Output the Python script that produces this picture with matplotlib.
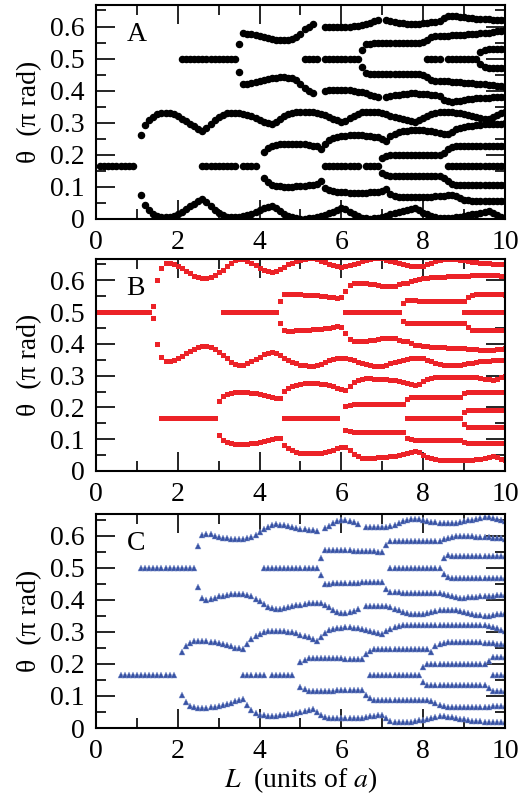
import numpy as np
import matplotlib
matplotlib.use('Agg')
import matplotlib.pyplot as plt
from matplotlib.ticker import MultipleLocator

plt.rcParams['font.family'] = ['Liberation Serif', 'DejaVu Serif']
plt.rcParams['mathtext.fontset'] = 'stix'

# ---------------- données (pas de 0.1 en L) ----------------
STEP = 0.1

# ---- panneau A (cercles noirs) ----
a_sixth1_x0, a_sixth1 = 0.1, [0.1667] * 9
a_band_x0 = 1.1
a_band = [.262, .292, .308, .319, .326, .330, .331, .330, .326, .320,
          .313, .305, .297, .289, .281, .274, .284, .297, .309, .318,
          .325, .329, .331, .331, .330, .328, .325, .320, .315, .309,
          .303, .298, .296, .302, .312, .320, .327, .331, .334, .335,
          .335, .334, .332, .330, .327, .323, .318, .313, .308, .303,
          .305, .314, .322, .328, .332, .334, .335, .334, .332, .329,
          .326, .322, .318, .314, .311, .308, .305, .303, .308, .316,
          .322, .327, .331, .333, .334, .334, .333, .331, .329, .327,
          .325, .322, .319, .316, .313, .311, .317, .324, .330, .334]
a_bot_x0 = 1.1
a_bot = [.074, .044, .028, .017, .010, .006, .005, .006, .010, .016,
         .023, .031, .039, .047, .055, .062, .052, .039, .027, .018,
         .011, .007, .005, .005, .006, .008, .011, .016, .021, .027,
         .033, .038, .040, .034, .024, .016, .009, .005, .002, .001,
         .001, .002, .004, .006, .009, .013, .018, .023, .028, .033,
         .031, .022, .014, .008, .004, .002, .001, .002, .004, .007,
         .010, .014, .018, .022, .025, .028, .031, .033, .028, .020,
         .014, .009, .005, .003, .002, .002, .003, .005, .007, .009,
         .011, .014, .017, .020, .023, .025, .019, .012, .006, .002]
a_half1_x0, a_half1 = 2.1, [0.5] * 14
a_top1_x0 = 3.5
a_top1 = [.545, .580, .578, .576, .573, .570, .567, .564, .561, .559,
          .558, .558, .559, .562, .568, .578, .592, .600, .607]
a_low1_x0 = 3.5
a_low1 = [.457, .420, .422, .424, .427, .430, .433, .436, .439, .441,
          .442, .442, .441, .438, .432, .422, .408, .400, .393]
a_half2_x0, a_half2 = 5.1, [0.5] * 4
a_half3_x0, a_half3 = 5.6, [0.5] * 9
a_top2_x0 = 5.6
a_top2 = [.600, .598, .597, .597, .597, .598, .599, .601, .603, .605,
          .608, .612, .616, .619]
a_low2_x0 = 5.6
a_low2 = [.400, .402, .403, .403, .403, .402, .401, .399, .397, .395,
          .392, .388, .384, .381]
a_dots_x = [7.1, 7.1]
a_dots_y = [.621, .379]
a_top3_x0 = 7.2
a_top3 = [.616, .614, .612, .610, .609, .608, .608, .609, .610, .611,
          .613, .615, .616, .628, .633, .634, .633, .631, .629, .627,
          .625, .624, .623, .622, .622, .621, .621, .621, .621]
a_low3_x0 = 7.2
a_low3 = [.384, .386, .388, .390, .391, .392, .392, .391, .390, .389,
          .387, .385, .384, .372, .367, .366, .367, .369, .371, .373,
          .375, .376, .377, .378, .378, .379, .379, .379, .379]
a_midup_x0 = 6.5
a_midup = [.527, .545, .547, .548, .548, .548, .548, .548, .548, .548,
           .548, .548, .548, .549, .549, .551, .558, .568, .571, .571,
           .571, .571, .572, .573, .574, .575, .576, .577, .578, .579,
           .580, .581, .583, .585, .587, .589]
a_middn_x0 = 6.5
a_middn = [.473, .455, .453, .452, .452, .452, .452, .452, .452, .452,
           .452, .452, .452, .451, .451, .449, .442, .432, .429, .429,
           .429, .429, .428, .427, .426, .425, .424, .423, .422, .421,
           .420, .419, .417, .415, .413, .411]
a_half4_x0, a_half4 = 8.1, [0.5] * 4
a_half5_x0, a_half5 = 8.6, [0.5] * 8
a_up5_x0, a_up5 = 9.4, [.520, .528, .530, .530, .530, .530, .530]
a_dn5_x0, a_dn5 = 9.4, [.482, .474, .472, .472, .472, .472, .472]
a_sixth2_x0, a_sixth2 = 2.6, [0.1667] * 9
a_sixth3_x0, a_sixth3 = 3.6, [0.1667] * 4
a_u1_x0 = 4.1
a_u1 = [.208, .222, .229, .232, .234, .235, .235, .235, .234, .234,
        .233, .231, .229, .226, .218, .234, .245, .252, .256, .259,
        .260, .261, .261, .261, .261, .260, .259, .257, .254, .249,
        .244, .258, .265, .270, .273, .275, .276, .277, .277, .276,
        .275, .273, .271, .269, .266, .265, .272, .279, .284, .287,
        .289, .291, .293, .294, .295, .296, .296, .297, .297, .298]
a_l1_x0 = 4.1
a_l1 = [.128, .114, .107, .104, .102, .101, .101, .101, .102, .102,
        .103, .105, .107, .110, .118, .096, .090, .087, .085, .084,
        .083, .082, .082, .082, .082, .082, .083, .084, .085, .087,
        .092, .079, .073, .070, .068, .067, .067, .067, .067, .068,
        .069, .070, .071, .072, .073, .074, .075, .072, .064, .060,
        .058, .057, .057, .056, .056, .056, .056, .056, .056, .056]
a_sixth4_x0, a_sixth4 = 5.6, [0.1667] * 9
a_sixth5_x0, a_sixth5 = 6.6, [0.1667] * 4
a_sixth6_x0, a_sixth6 = 8.6, [0.1667] * 15
a_d_x0 = 7.0
a_d = [.190, .197] + [.199] * 13 + [.206, .217, .224, .227] + [.229] * 12
a_f_x0 = 7.0
a_f = [.143, .137] + [.135] * 13 + [.127, .117, .110, .107] + [.105] * 12

# ---- panneau B (carrés rouges) ----
b_half1_x0, b_half1 = 0.0, [0.5] * 14
b_t1_x0 = 1.4
b_t1 = [.520, .600, .640, .655, .655, .652, .646,
        .638, .630, .622, .615, .610, .607, .608, .611, .617, .625,
        .634, .645, .656, .664, .668, .666, .661, .655, .648, .640,
        .633, .628, .626, .628, .636, .643, .650, .656, .661, .665,
        .668, .670, .669, .666, .662, .657, .652, .648, .645, .643,
        .645, .648, .652, .656, .660, .664, .667, .669, .670, .669,
        .665, .661, .657, .653, .650, .648, .646, .645, .645, .646,
        .650, .655, .660, .664, .667, .668, .668, .667, .665, .663,
        .661, .659, .657, .655, .654, .653, .652, .651, .651, .651]
b_l1_x0 = 1.4
b_l1 = [.480, .400, .360, .345, .345, .348, .354,
        .362, .370, .378, .385, .390, .393, .392, .389, .383, .375,
        .366, .355, .344, .336, .332, .334, .339, .345, .352, .360,
        .367, .372, .374, .372, .364, .357, .350, .344, .339, .335,
        .332, .330, .331, .334, .338, .343, .348, .352, .355, .357,
        .355, .352, .348, .344, .340, .336, .333, .331, .330, .331,
        .335, .339, .343, .347, .350, .352, .354, .355, .355, .354,
        .350, .345, .340, .336, .333, .332, .332, .333, .335, .337,
        .339, .341, .343, .345, .346, .347, .348, .349, .349, .349]
b_half2_x0, b_half2 = 3.1, [0.5] * 14
b_t2_x0 = 4.5
b_t2 = [.534, .556, .558, .558, .557, .556,
        .555, .555, .554, .553, .552, .551, .549, .547, .545, .548,
        .566, .585, .590, .592, .592, .591, .589, .587, .585, .583,
        .582, .581, .583, .587, .590, .592, .597, .602, .605, .606,
        .608, .609, .610, .611, .611, .612, .612, .613, .613, .614,
        .615, .616, .617, .618, .618, .618, .618, .617, .615, .613]
b_l2_x0 = 4.5
b_l2 = [.466, .444, .442, .442, .443, .444,
        .445, .445, .446, .447, .448, .449, .451, .453, .455, .452,
        .434, .415, .410, .408, .408, .409, .411, .413, .415, .417,
        .418, .419, .417, .413, .410, .408, .403, .398, .395, .394,
        .392, .391, .390, .389, .389, .388, .388, .387, .387, .386,
        .385, .384, .383, .382, .382, .382, .382, .383, .385, .387]
b_half3_x0, b_half3 = 6.1, [0.5] * 14
b_t3_x0 = 7.5
b_t3 = [.529, .538, .537, .537, .536, .536, .536, .535, .535, .535,
        .535, .535, .535, .535, .535, .535, .548, .555, .556, .556,
        .556, .556, .556, .556, .556, .555]
b_l3_x0 = 7.5
b_l3 = [.471, .465, .465, .465, .466, .466, .466, .466, .466, .466,
        .466, .466, .466, .466, .466, .466, .452, .445, .444, .444,
        .444, .444, .444, .444, .444, .445]
b_half4_x0, b_half4 = 9.0, [0.5] * 11
b_sixth1_x0, b_sixth1 = 1.6, [0.1667] * 14
b_u1_x0 = 3.0
b_u1 = [.219, .236, .242, .246, .248, .249, .249, .248, .246, .244, .241,
        .238, .235, .232, .230, .229, .252, .262, .268, .272, .275,
        .277, .277, .277, .276, .275, .273, .270, .266, .262, .258,
        .256, .268, .280, .287, .291, .292, .292, .291, .290, .289,
        .288, .287, .285, .283, .280, .277, .274, .271, .273, .282,
        .288, .292, .295, .297, .297, .297, .297, .297, .297, .297,
        .297, .297, .296, .294, .291, .288, .287, .290, .295, .299]
b_d1_x0 = 3.0
b_d1 = [.114, .097, .091, .087, .085, .084, .084, .085, .087, .089, .092,
        .095, .098, .101, .103, .104, .081, .071, .065, .061, .058,
        .056, .056, .056, .057, .058, .060, .063, .067, .071, .075,
        .077, .065, .053, .046, .042, .041, .041, .042, .043, .044,
        .045, .046, .048, .050, .053, .056, .059, .062, .060, .051,
        .045, .041, .038, .036, .036, .036, .036, .036, .036, .036,
        .036, .036, .037, .039, .042, .045, .046, .043, .038, .034]
b_sixth2_x0, b_sixth2 = 4.6, [0.1667] * 14
b_u2_x0 = 6.1
b_u2 = [.205, .208] + [.210] * 13 + [.228, .233] + [.233] * 12 + [.245] + [.250] * 10
b_d2_x0 = 6.1
b_d2 = [.130, .126] + [.124] * 13 + [.105, .100] + [.099] * 12 + [.090] + [.087] * 10
b_sixth3_x0, b_sixth3 = 7.6, [0.1667] * 14
b_u3_x0, b_u3 = 9.0, [.185] + [.193] * 10
b_d3_x0, b_d3 = 9.0, [.148] + [.139] * 10

# ---- panneau C (triangles bleus) ----
c_sixth1_x0, c_sixth1 = 0.6, [0.1667] * 14
c_half1_x0, c_half1 = 1.1, [0.5] * 14
c_t1a_x0 = 2.5
c_t1a = [.567, .602, .606, .604, .600, .596,
         .593, .591, .589, .588, .588, .589, .591, .596, .603, .611,
         .620, .628, .633, .635, .634, .632, .629, .626, .623, .621,
         .619, .617, .616, .615]
c_t1b_x0 = 5.6
c_t1b = [.622, .630, .638, .644, .648, .648, .645, .641, .636]
c_t1c_x0 = 6.6
c_t1c = [.627, .626, .626, .626, .626,
         .627, .630, .634, .639, .644, .648, .651, .652, .651, .649,
         .646, .643, .641, .639, .638, .638, .638, .639, .641, .644,
         .647, .650, .653, .655, .657, .657, .655, .652, .649, .646]
c_l1a_x0 = 2.5
c_l1a = [.439, .404, .400, .402, .406, .410,
         .413, .415, .417, .418, .418, .417, .415, .410, .403, .395,
         .386, .378, .373, .371, .372, .374, .377, .380, .383, .385,
         .387, .389, .390, .391, .391, .384, .376, .368, .362, .358,
         .358, .361, .365, .370]
c_l1b_x0 = 6.6
c_l1b = [.379, .380, .380, .380, .380,
         .379, .376, .372, .367, .362, .358, .355, .354, .355, .357,
         .360, .363, .365, .367, .368, .368, .368, .367, .365, .362,
         .359, .356, .353, .351, .349, .349, .351, .354, .357, .360]
c_half2_x0, c_half2 = 4.1, [0.5] * 14
c_t2_x0 = 5.5
c_t2 = ([.530] + [.556, .556, .555, .555, .555, .554, .554, .553, .553, .552,
                  .552, .551, .551, .550, .550]
        + [.572] + [.582, .583, .583] + [.584] * 10
        + [.588, .592, .596, .599, .600, .600, .599, .598, .597, .596,
           .595, .594, .593, .592, .591, .590])
c_l2_x0 = 5.5
c_l2 = ([.476] + [.450, .450, .451, .451, .451, .452, .452, .453, .453, .454,
                  .454, .455, .455, .456, .456]
        + [.434] + [.424, .423, .423] + [.422] * 10
        + [.418, .414, .410, .407, .406, .406, .407, .408, .409, .410,
           .411, .412, .413, .414, .415, .416])
c_half3_x0, c_half3 = 7.2, [0.5] * 13
c_t3_x0, c_t3 = 8.5, [.530, .538] + [.537] * 14
c_l3_x0, c_l3 = 8.5, [.480, .472] + [.469] * 14
c_u1_x0 = 2.1
c_u1 = [.236, .256, .265, .270, .272, .272, .271, .269, .267, .264,
        .261, .258, .255, .251, .248, .245, .262, .277, .287, .294,
        .299, .302, .304, .304, .303, .302, .300, .298, .295, .291,
        .287, .283, .277, .272, .285, .297, .305, .309, .312, .313,
        .314, .314, .313, .311, .309, .306, .303, .300, .296, .293,
        .302, .310, .315, .318, .320, .321, .322, .322, .322, .321,
        .321, .320, .320, .320, .320, .320, .321, .321, .322, .322,
        .322, .322, .321, .321, .320, .319, .315, .311, .307, .304]
c_d1_x0 = 2.1
c_d1 = [.104, .080, .070, .065, .062, .062, .063, .065, .067, .070,
        .073, .076, .079, .083, .086, .089, .072, .057, .047, .042,
        .040, .039, .039, .039, .040, .041, .043, .045, .047, .050,
        .053, .056, .058, .050, .040, .034, .032, .031, .030, .030,
        .030, .030, .030, .031, .032, .035, .037, .039, .041, .040,
        .030, .022, .019, .018, .018, .019, .020, .022, .024, .026,
        .029, .032, .034, .036, .036, .035, .033, .031, .029, .027,
        .025, .023, .022, .021, .020, .020, .020, .020, .020, .020]
c_sixth2a_x0, c_sixth2a = 3.6, [0.1667] * 6
c_sixth2b_x0, c_sixth2b = 4.3, [0.1667] * 6
c_u2_x0 = 5.0
c_u2 = ([.205, .212, .218, .219, .219, .218, .218, .218, .217, .217,
         .217, .216, .216, .216, .215, .215, .231, .240, .245, .246]
        + [.246] * 12 + [.236, .255, .262, .265] + [.268] * 8
        + [.267, .266, .265, .264, .263, .262, .262])
c_d2_x0 = 5.0
c_d2 = ([.128, .121, .116, .115]
        + [.115, .115, .116, .116, .116, .117, .117, .117, .118, .118, .118, .118]
        + [.102, .093, .088] + [.087] * 13 + [.083, .078, .072, .069]
        + [.066] * 8 + [.067, .067, .067, .068, .068, .068, .068])
c_sixth3_x0, c_sixth3 = 6.7, [0.1667] * 13
c_u3_x0, c_u3 = 8.0, [.190] + [.200] * 15 + [.210] + [.220] * 4
c_d3_x0, c_d3 = 8.0, [.145] + [.135] * 15 + [.125] + [.115] * 4
c_sixth4_x0, c_sixth4 = 9.7, [0.1667] * 4

# ---------------- tables de branches ----------------
branches_a = [(a_sixth1_x0, a_sixth1), (a_band_x0, a_band), (a_bot_x0, a_bot),
              (a_half1_x0, a_half1), (a_top1_x0, a_top1), (a_low1_x0, a_low1),
              (a_half2_x0, a_half2), (a_half3_x0, a_half3),
              (a_top2_x0, a_top2), (a_low2_x0, a_low2),
              (a_top3_x0, a_top3), (a_low3_x0, a_low3),
              (a_midup_x0, a_midup), (a_middn_x0, a_middn),
              (a_half4_x0, a_half4), (a_half5_x0, a_half5),
              (a_up5_x0, a_up5), (a_dn5_x0, a_dn5),
              (a_sixth2_x0, a_sixth2), (a_sixth3_x0, a_sixth3),
              (a_u1_x0, a_u1), (a_l1_x0, a_l1),
              (a_sixth4_x0, a_sixth4), (a_sixth5_x0, a_sixth5),
              (a_sixth6_x0, a_sixth6), (a_d_x0, a_d), (a_f_x0, a_f)]
branches_b = [(b_half1_x0, b_half1), (b_t1_x0, b_t1), (b_l1_x0, b_l1),
              (b_half2_x0, b_half2), (b_t2_x0, b_t2), (b_l2_x0, b_l2),
              (b_half3_x0, b_half3), (b_t3_x0, b_t3), (b_l3_x0, b_l3),
              (b_half4_x0, b_half4), (b_sixth1_x0, b_sixth1),
              (b_u1_x0, b_u1), (b_d1_x0, b_d1), (b_sixth2_x0, b_sixth2),
              (b_u2_x0, b_u2), (b_d2_x0, b_d2), (b_sixth3_x0, b_sixth3),
              (b_u3_x0, b_u3), (b_d3_x0, b_d3)]
branches_c = [(c_sixth1_x0, c_sixth1), (c_half1_x0, c_half1),
              (c_t1a_x0, c_t1a), (c_t1b_x0, c_t1b), (c_t1c_x0, c_t1c),
              (c_l1a_x0, c_l1a), (c_l1b_x0, c_l1b), (c_half2_x0, c_half2),
              (c_t2_x0, c_t2), (c_l2_x0, c_l2), (c_half3_x0, c_half3),
              (c_t3_x0, c_t3), (c_l3_x0, c_l3),
              (c_u1_x0, c_u1), (c_d1_x0, c_d1),
              (c_sixth2a_x0, c_sixth2a), (c_sixth2b_x0, c_sixth2b),
              (c_u2_x0, c_u2), (c_d2_x0, c_d2), (c_sixth3_x0, c_sixth3),
              (c_u3_x0, c_u3), (c_d3_x0, c_d3), (c_sixth4_x0, c_sixth4)]

x_ticks = [0, 2, 4, 6, 8, 10]
y_ticks = [0, 0.1, 0.2, 0.3, 0.4, 0.5, 0.6]
y_tick_labels = ['0', '0.1', '0.2', '0.3', '0.4', '0.5', '0.6']


def draw(ax, branches, **style):
    for x0, vals in branches:
        x = x0 + STEP * np.arange(len(vals))
        ax.plot(x, vals, ls='none', **style)


def setup(ax, letter):
    ax.set_xlim(0, 10)
    ax.set_ylim(0, 0.667)
    ax.set_xticks(x_ticks)
    ax.set_xticklabels([str(t) for t in x_ticks])
    ax.set_yticks(y_ticks)
    ax.set_yticklabels(y_tick_labels)
    ax.xaxis.set_minor_locator(MultipleLocator(1))
    ax.yaxis.set_minor_locator(MultipleLocator(0.05))
    ax.tick_params(which='both', direction='in', top=True, right=True,
                   labelsize=20, width=1.2)
    ax.tick_params(which='major', length=14, pad=8)
    ax.tick_params(which='minor', length=7)
    for s in ax.spines.values():
        s.set_linewidth(1.5)
    ax.set_ylabel(r'θ  (π rad)', fontsize=20, labelpad=6)
    ax.text(0.075, 0.83, letter, transform=ax.transAxes, fontsize=20)


fig = plt.figure(figsize=(5.31, 7.96), dpi=100)
ax_a = fig.add_axes([0.1808, 0.7249, 0.7702, 0.2688])
ax_b = fig.add_axes([0.1808, 0.4083, 0.7702, 0.2663])
ax_c = fig.add_axes([0.1808, 0.0854, 0.7702, 0.2688])

draw(ax_a, branches_a, marker='o', ms=4.4, color='black', mec='black')
ax_a.plot(a_dots_x, a_dots_y, ls='none', marker='o', ms=4.4, color='black')
draw(ax_b, branches_b, marker='s', ms=3.6, color='#ec2227', mew=0)
draw(ax_c, branches_c, marker='^', ms=4.6, color='#3953a4', mew=0.3,
     mec='#7f93cc')

setup(ax_a, 'A')
setup(ax_b, 'B')
setup(ax_c, 'C')
ax_c.set_xlabel(r'$L$  (units of $a$)', fontsize=20, labelpad=1)

fig.savefig('out.png', dpi=100)
